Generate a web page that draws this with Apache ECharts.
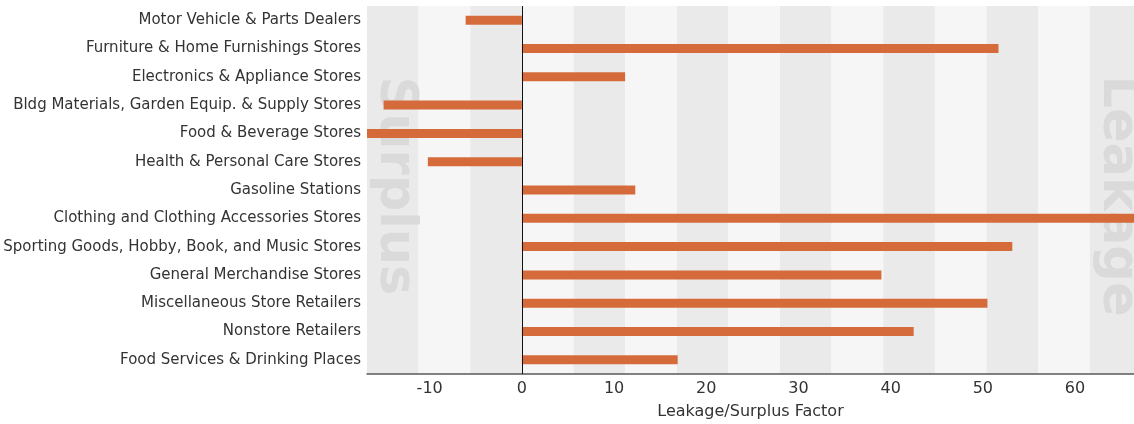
<!DOCTYPE html>
<html>
<head>
<meta charset="utf-8">
<script src="https://cdn.jsdelivr.net/npm/echarts/dist/echarts.min.js"></script>
<style>
  html, body { margin: 0; padding: 0; background: #ffffff; }
  #chart { width: 1134px; height: 424px; }
</style>
</head>
<body>
<div id="chart"></div>
<script>
// Retail trade categories, top to bottom
const categories = [
  'Motor Vehicle & Parts Dealers',
  'Furniture & Home Furnishings Stores',
  'Electronics & Appliance Stores',
  'Bldg Materials, Garden Equip. & Supply Stores',
  'Food & Beverage Stores',
  'Health & Personal Care Stores',
  'Gasoline Stations',
  'Clothing and Clothing Accessories Stores',
  'Sporting Goods, Hobby, Book, and Music Stores',
  'General Merchandise Stores',
  'Miscellaneous Store Retailers',
  'Nonstore Retailers',
  'Food Services & Drinking Places'
];

// Leakage/Surplus factor per category (negative = surplus, positive = leakage)
const factors = [-6.1, 51.7, 11.2, -15.0, -17.5, -10.2, 12.3, 68.0, 53.2, 39.0, 50.5, 42.5, 16.9];

const axisTitle = 'Leakage/Surplus Factor';
const sideLabels = { left: 'Surplus', right: 'Leakage' };

// visible value range and width of the alternating background bands
const xMin = -16.8;
const xMax = 66.4;
const bandStep = 5.6;

const FONT = '"DejaVu Sans", Verdana, sans-serif';
const BAR_COLOR = '#d56b3b';

const chart = echarts.init(document.getElementById('chart'), null, { renderer: 'canvas' });

chart.setOption({
  animation: false,
  backgroundColor: '#ffffff',
  grid: {
    left: 367, right: 0, top: 6, bottom: 50,
    containLabel: false,
    outerBoundsMode: 'none'
  },
  xAxis: [
    {
      type: 'value',
      min: xMin,
      max: xMax,
      splitNumber: 8,
      minInterval: 10,
      maxInterval: 10,
      axisLine: { show: true, onZero: false, lineStyle: { color: '#5a5a5a', width: 1.5 } },
      axisTick: { show: false },
      splitLine: { show: false },
      splitArea: { show: false },
      axisLabel: {
        color: '#333333', fontSize: 16, fontFamily: FONT, margin: 7,
        showMinLabel: false, showMaxLabel: false
      },
      name: axisTitle,
      nameLocation: 'middle',
      nameGap: 30,
      nameTextStyle: { color: '#333333', fontSize: 16, fontFamily: FONT }
    },
    {
      // background stripes only
      type: 'value',
      gridIndex: 0,
      position: 'top',
      min: xMin / bandStep,
      max: xMax / bandStep,
      interval: 1,
      silent: true,
      axisLine: { show: false },
      axisTick: { show: false },
      axisLabel: { show: false },
      splitLine: { show: false },
      splitArea: { show: true, areaStyle: { color: ['#eaeaea', '#f6f6f6'] } }
    }
  ],
  yAxis: {
    type: 'category',
    data: categories,
    inverse: true,
    axisLine: { show: false },
    axisTick: { show: false },
    splitLine: { show: false },
    axisLabel: { color: '#333333', fontSize: 15, fontFamily: FONT, margin: 6, interval: 0 }
  },
  graphic: [
    {
      type: 'text', x: 394, y: 186, rotation: -Math.PI / 2, z: 1, silent: true,
      style: { text: sideLabels.left, font: 'bold 51px ' + FONT, fill: '#dadada', align: 'center', verticalAlign: 'middle' }
    },
    {
      type: 'text', x: 1117, y: 196, rotation: -Math.PI / 2, z: 1, silent: true,
      style: { text: sideLabels.right, font: 'bold 51px ' + FONT, fill: '#dadada', align: 'center', verticalAlign: 'middle' }
    }
  ],
  series: [
    {
      type: 'bar',
      xAxisIndex: 0,
      data: factors,
      barWidth: 9,
      clip: true,
      z: 3,
      itemStyle: { color: BAR_COLOR },
      markLine: {
        silent: true,
        symbol: 'none',
        animation: false,
        label: { show: false },
        lineStyle: { color: '#111111', width: 1, type: 'solid' },
        data: [{ xAxis: 0 }]
      }
    }
  ]
});
</script>
</body>
</html>
